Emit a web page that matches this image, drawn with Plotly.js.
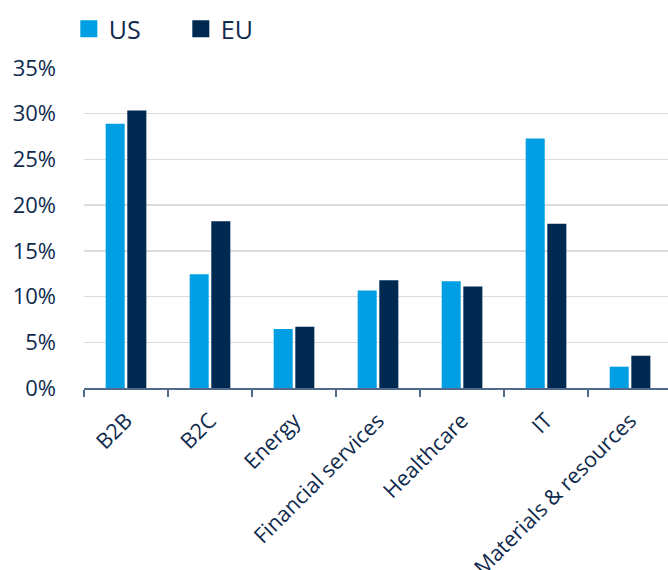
<!DOCTYPE html>
<html>
<head>
<meta charset="utf-8">
<script src="https://cdn.plot.ly/plotly-3.0.1.min.js"></script>
<style>html,body{margin:0;padding:0;background:#fff}#chart{width:668px;height:570px}</style>
</head>
<body>
<div id="chart"></div>
<script>
const categories = ["B2B", "B2C", "Energy", "Financial services", "Healthcare", "IT", "Materials & resources"];
const usValues = [28.9, 12.45, 6.44, 10.66, 11.68, 27.3, 2.33];
const euValues = [30.35, 18.23, 6.69, 11.79, 11.09, 17.97, 3.53];
const yTickValues = [0, 5, 10, 15, 20, 25, 30, 35];
const yTickLabels = ["0%", "5%", "10%", "15%", "20%", "25%", "30%", "35%"];

const textColor = "#0f2a4d";
const traces = [
  {type: "bar", name: "US", x: categories, y: usValues, marker: {color: "#009fe3"}, hoverinfo: "none"},
  {type: "bar", name: "EU", x: categories, y: euValues, marker: {color: "#002952"}, hoverinfo: "none"}
];
const layout = {
  width: 668, height: 570,
  margin: {l: 84, r: 0, t: 68, b: 182, pad: 0},
  paper_bgcolor: "#fff", plot_bgcolor: "#fff",
  font: {family: "Open Sans, sans-serif", color: textColor, size: 20},
  barmode: "group", bargap: 0.485, bargroupgap: 0.12,
  showlegend: true,
  legend: {orientation: "h", x: -0.026, xanchor: "left", xref: "paper", y: 1.05, yanchor: "bottom", yref: "paper",
           font: {size: 25, color: textColor}, entrywidth: 67, traceorder: "normal", bgcolor: "rgba(0,0,0,0)"},
  xaxis: {type: "category", range: [-0.5, 6.452], showline: true, linecolor: "#506a8a", linewidth: 1.5,
          ticks: "outside", tickson: "boundaries", ticklen: 7, tickwidth: 1.5, tickcolor: "#506a8a",
          tickangle: -45, ticklabelstandoff: 10, tickfont: {size: 21.5, color: textColor}, showgrid: false, zeroline: false, fixedrange: true},
  yaxis: {range: [0, 35], tickvals: yTickValues, ticktext: yTickLabels, showgrid: true, gridcolor: "#dcdcdc", gridwidth: 1.5,
          zeroline: false, showline: false, ticks: "", ticklabelstandoff: 27, tickfont: {size: 22, color: textColor}, fixedrange: true}
};
Plotly.newPlot("chart", traces, layout, {displayModeBar: false, staticPlot: true}).then(function () {
  document.querySelectorAll("#chart .legendpoints path").forEach(function (p) {
    p.setAttribute("d", "M8.5,8.5H-8.5V-8.5H8.5Z");
  });
});
</script>
</body>
</html>
